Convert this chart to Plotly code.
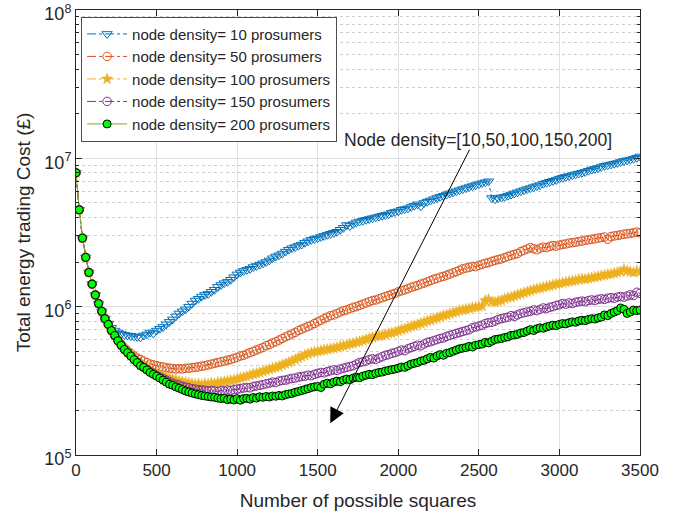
import math
import plotly.graph_objects as go

# Number of possible squares: one sample every 20 squares, starting at 0
x_step = 20

# Total energy trading cost, in millions of £
cost_10 = [8.0, 4.5, 2.9, 2.15, 1.7, 1.42, 1.2, 1.05, 0.93, 0.83,
           0.77, 0.72, 0.69, 0.67, 0.655, 0.645, 0.64, 0.635, 0.63, 0.625,
           0.62, 0.64, 0.65, 0.67, 0.66, 0.69, 0.71, 0.73, 0.76, 0.79,
           0.82, 0.86, 0.9, 0.93, 0.96, 1.0, 1.05, 1.1, 1.13, 1.17,
           1.2, 1.22, 1.26, 1.3, 1.36, 1.4, 1.44, 1.47, 1.52, 1.58,
           1.65, 1.7, 1.74, 1.77, 1.8, 1.85, 1.88, 1.92, 1.96, 2.0,
           2.05, 2.12, 2.18, 2.22, 2.28, 2.35, 2.42, 2.48, 2.52, 2.58,
           2.62, 2.7, 2.76, 2.82, 2.86, 2.9, 2.95, 3.0, 3.05, 3.1,
           3.15, 3.2, 3.3, 3.4, 3.55, 3.5, 3.6, 3.7, 3.75, 3.8,
           3.85, 3.9, 3.95, 4.0, 4.05, 4.1, 4.15, 4.2, 4.3, 4.35,
           4.4, 4.5, 4.55, 4.6, 4.7, 4.8, 4.9, 4.75, 5.0, 5.1,
           5.2, 5.3, 5.4, 5.5, 5.6, 5.7, 5.8, 5.9, 6.0, 6.1,
           6.2, 6.3, 6.4, 6.5, 6.6, 6.7, 6.8, 6.9, 7.0, 5.4,
           5.3, 5.4, 5.45, 5.5, 5.6, 5.7, 5.8, 5.9, 6.0, 6.1,
           6.2, 6.3, 6.4, 6.5, 6.6, 6.75, 6.85, 6.95, 7.05, 7.15,
           7.3, 7.4, 7.5, 7.6, 7.7, 7.8, 7.9, 8.0, 8.1, 8.25,
           8.4, 8.5, 8.6, 8.75, 8.9, 9.0, 9.1, 9.2, 9.3, 9.45,
           9.6, 9.7, 9.8, 9.95, 10.1, 10.3]

cost_50 = [8.0, 4.5, 2.9, 2.15, 1.7, 1.42, 1.2, 1.05, 0.93, 0.83,
           0.76, 0.69, 0.64, 0.595, 0.56, 0.53, 0.505, 0.485, 0.465, 0.45,
           0.44, 0.43, 0.42, 0.41, 0.405, 0.4, 0.395, 0.392, 0.388, 0.385,
           0.383, 0.38, 0.382, 0.38, 0.384, 0.385, 0.388, 0.39, 0.393, 0.397,
           0.4, 0.405, 0.41, 0.415, 0.42, 0.425, 0.43, 0.436, 0.44, 0.448,
           0.455, 0.465, 0.47, 0.48, 0.49, 0.5, 0.51, 0.52, 0.53, 0.545,
           0.555, 0.57, 0.58, 0.595, 0.61, 0.625, 0.64, 0.655, 0.67, 0.69,
           0.705, 0.72, 0.735, 0.75, 0.77, 0.79, 0.81, 0.83, 0.85, 0.87,
           0.88, 0.9, 0.92, 0.94, 0.95, 0.97, 0.99, 1.0, 1.02, 1.04,
           1.06, 1.08, 1.1, 1.11, 1.13, 1.15, 1.17, 1.19, 1.21, 1.23,
           1.26, 1.28, 1.3, 1.32, 1.35, 1.37, 1.39, 1.42, 1.44, 1.47,
           1.5, 1.53, 1.55, 1.58, 1.6, 1.63, 1.66, 1.69, 1.72, 1.76,
           1.8, 1.82, 1.84, 1.87, 1.86, 1.9, 1.93, 1.96, 1.98, 2.02,
           2.05, 2.08, 2.1, 2.14, 2.18, 2.22, 2.25, 2.28, 2.35, 2.4,
           2.45, 2.5, 2.46, 2.42, 2.48, 2.52, 2.5, 2.55, 2.58, 2.56,
           2.6, 2.63, 2.65, 2.68, 2.7, 2.72, 2.75, 2.77, 2.8, 2.82,
           2.85, 2.87, 2.9, 2.92, 2.95, 2.85, 2.97, 3.0, 3.02, 3.05,
           3.08, 3.1, 3.12, 3.15, 3.18, 3.15]

cost_100 = [8.0, 4.5, 2.9, 2.15, 1.7, 1.42, 1.2, 1.05, 0.93, 0.83,
            0.76, 0.69, 0.64, 0.59, 0.55, 0.515, 0.49, 0.466, 0.443, 0.424,
            0.405, 0.395, 0.382, 0.37, 0.362, 0.355, 0.348, 0.342, 0.335, 0.33,
            0.325, 0.32, 0.315, 0.312, 0.31, 0.305, 0.303, 0.3, 0.302, 0.298,
            0.302, 0.3, 0.305, 0.303, 0.308, 0.31, 0.312, 0.315, 0.318, 0.32,
            0.325, 0.33, 0.335, 0.338, 0.345, 0.35, 0.355, 0.36, 0.365, 0.372,
            0.378, 0.385, 0.39, 0.395, 0.405, 0.412, 0.42, 0.43, 0.44, 0.45,
            0.46, 0.47, 0.48, 0.49, 0.495, 0.5, 0.505, 0.51, 0.515, 0.52,
            0.525, 0.53, 0.54, 0.545, 0.55, 0.56, 0.565, 0.575, 0.58, 0.59,
            0.6, 0.61, 0.62, 0.63, 0.635, 0.64, 0.65, 0.66, 0.665, 0.675,
            0.685, 0.7, 0.71, 0.72, 0.735, 0.745, 0.76, 0.77, 0.785, 0.8,
            0.81, 0.825, 0.84, 0.855, 0.87, 0.88, 0.895, 0.91, 0.92, 0.94,
            0.95, 0.96, 0.97, 0.985, 0.99, 1.0, 1.01, 1.1, 1.12, 1.08,
            1.07, 1.09, 1.1, 1.13, 1.15, 1.16, 1.18, 1.2, 1.22, 1.24,
            1.26, 1.28, 1.3, 1.32, 1.33, 1.35, 1.37, 1.38, 1.4, 1.42,
            1.43, 1.45, 1.46, 1.48, 1.49, 1.5, 1.52, 1.54, 1.53, 1.55,
            1.57, 1.58, 1.6, 1.62, 1.63, 1.65, 1.66, 1.68, 1.7, 1.72,
            1.78, 1.74, 1.72, 1.7, 1.74, 1.72]

cost_150 = [8.0, 4.5, 2.9, 2.15, 1.7, 1.42, 1.2, 1.05, 0.93, 0.83,
            0.76, 0.69, 0.64, 0.59, 0.55, 0.515, 0.49, 0.465, 0.442, 0.422,
            0.403, 0.39, 0.378, 0.365, 0.355, 0.345, 0.336, 0.328, 0.32, 0.312,
            0.305, 0.3, 0.296, 0.29, 0.287, 0.284, 0.28, 0.278, 0.276, 0.274,
            0.273, 0.27, 0.272, 0.27, 0.268, 0.272, 0.27, 0.274, 0.272, 0.276,
            0.278, 0.28, 0.283, 0.285, 0.284, 0.29, 0.292, 0.295, 0.298, 0.302,
            0.305, 0.31, 0.308, 0.315, 0.318, 0.32, 0.325, 0.328, 0.33, 0.335,
            0.338, 0.34, 0.345, 0.342, 0.35, 0.355, 0.36, 0.358, 0.365, 0.37,
            0.375, 0.372, 0.38, 0.385, 0.39, 0.395, 0.4, 0.41, 0.42, 0.425,
            0.43, 0.44, 0.445, 0.44, 0.45, 0.46, 0.47, 0.475, 0.485, 0.49,
            0.5, 0.51, 0.505, 0.52, 0.53, 0.54, 0.55, 0.545, 0.56, 0.575,
            0.58, 0.59, 0.6, 0.61, 0.615, 0.63, 0.64, 0.65, 0.66, 0.67,
            0.68, 0.69, 0.7, 0.72, 0.73, 0.74, 0.75, 0.77, 0.78, 0.785,
            0.8, 0.82, 0.83, 0.84, 0.85, 0.87, 0.86, 0.88, 0.9, 0.91,
            0.92, 0.93, 0.95, 0.94, 0.96, 0.98, 0.97, 0.99, 1.0, 1.02,
            1.03, 1.05, 1.04, 1.06, 1.05, 1.07, 1.08, 1.09, 1.08, 1.1,
            1.11, 1.1, 1.12, 1.13, 1.12, 1.14, 1.15, 1.14, 1.16, 1.17,
            1.16, 1.18, 1.2, 1.19, 1.25, 1.23]

cost_200 = [8.0, 4.5, 2.9, 2.15, 1.7, 1.42, 1.2, 1.05, 0.93, 0.83,
            0.76, 0.69, 0.64, 0.59, 0.55, 0.515, 0.49, 0.465, 0.44, 0.42,
            0.40, 0.39, 0.375, 0.36, 0.35, 0.34, 0.33, 0.32, 0.31, 0.30,
            0.295, 0.288, 0.282, 0.276, 0.27, 0.266, 0.262, 0.258, 0.255, 0.252,
            0.25, 0.248, 0.246, 0.245, 0.242, 0.24, 0.241, 0.236, 0.238, 0.235,
            0.24, 0.234, 0.24, 0.241, 0.238, 0.244, 0.242, 0.247, 0.245, 0.248,
            0.246, 0.25, 0.249, 0.252, 0.25, 0.255, 0.258, 0.26, 0.265, 0.268,
            0.272, 0.276, 0.28, 0.285, 0.288, 0.29, 0.285, 0.3, 0.305, 0.302,
            0.31, 0.315, 0.312, 0.32, 0.325, 0.322, 0.33, 0.335, 0.332, 0.34,
            0.345, 0.35, 0.348, 0.355, 0.36, 0.362, 0.368, 0.372, 0.376, 0.38,
            0.385, 0.392, 0.39, 0.4, 0.41, 0.415, 0.42, 0.43, 0.435, 0.445,
            0.455, 0.45, 0.465, 0.475, 0.47, 0.485, 0.49, 0.5, 0.51, 0.52,
            0.525, 0.53, 0.54, 0.535, 0.55, 0.555, 0.56, 0.575, 0.57, 0.585,
            0.6, 0.605, 0.61, 0.62, 0.625, 0.64, 0.645, 0.65, 0.665, 0.67,
            0.685, 0.7, 0.69, 0.71, 0.72, 0.715, 0.73, 0.74, 0.75, 0.745,
            0.76, 0.77, 0.765, 0.78, 0.79, 0.785, 0.8, 0.81, 0.805, 0.82,
            0.83, 0.825, 0.84, 0.85, 0.88, 0.87, 0.9, 0.92, 0.94, 0.98,
            0.96, 0.9, 0.92, 0.95, 0.94, 0.95]

series_names = ["node density= 10 prosumers", "node density= 50 prosumers",
                "node density= 100 prosumers", "node density= 150 prosumers",
                "node density= 200 prosumers"]
series_values = [cost_10, cost_50, cost_100, cost_150, cost_200]

y_tick_values = [1e5, 1e6, 1e7, 1e8]
y_tick_labels = ["10<sup>5</sup>", "10<sup>6</sup>", "10<sup>7</sup>", "10<sup>8</sup>"]
x_tick_values = [0, 500, 1000, 1500, 2000, 2500, 3000, 3500]

annotation_text = "Node density=[10,50,100,150,200]"
# arrow tail / head and text anchor (in data units)
arrow_tail = (2447, 1.17e7)
arrow_head = (1578, 1.64e5)
text_anchor = (2495, 1.33e7)

styles = [
    dict(line=dict(color="#0072BD", width=1, dash="dashdot"),
         marker=dict(symbol="triangle-down-open", size=9, color="#0072BD",
                     line=dict(width=1, color="#0072BD"))),
    dict(line=dict(color="#D95319", width=1, dash="dashdot"),
         marker=dict(symbol="circle-open", size=8.5, color="#D95319",
                     line=dict(width=1, color="#D95319"))),
    dict(line=dict(color="#EDB120", width=1, dash="dashdot"),
         marker=dict(symbol="star", size=8.5, color="#EDB120",
                     line=dict(width=0.5, color="#EDB120"))),
    dict(line=dict(color="#7E2F8E", width=1, dash="dashdot"),
         marker=dict(symbol="circle-open", size=8.5, color="#7E2F8E",
                     line=dict(width=1, color="#7E2F8E"))),
    dict(line=dict(color="#77AC30", width=1, dash="solid"),
         marker=dict(symbol="circle", size=8, color="#00FF00",
                     line=dict(width=1, color="#000000"))),
]

fig = go.Figure()
for name, vals, st in zip(series_names, series_values, styles):
    xs = list(range(0, x_step * len(vals), x_step))
    ys = [v * 1e6 for v in vals]
    fig.add_trace(go.Scatter(x=xs, y=ys, mode="lines+markers", name=name,
                             line=st["line"], marker=st["marker"]))

FONT = "Liberation Sans, Arial, Helvetica, sans-serif"
TXT = "#262626"
GRID = "#e0e0e0"

fig.update_layout(
    width=686, height=514,
    margin=dict(l=76, r=46, t=10, b=59, autoexpand=False),
    paper_bgcolor="white", plot_bgcolor="white",
    font=dict(family=FONT, color=TXT, size=17),
    showlegend=True,
    legend=dict(x=0.009, y=0.985, xanchor="left", yanchor="top",
                bgcolor="white", bordercolor="#4d4d4d", borderwidth=1,
                font=dict(size=15, color=TXT), tracegroupgap=0,
                itemwidth=40),
)

fig.update_xaxes(
    range=[0, 3500], tickvals=x_tick_values, automargin=False,
    showgrid=True, gridcolor=GRID, gridwidth=1,
    ticks="inside", ticklen=6, tickcolor=TXT,
    showline=True, linecolor=TXT, linewidth=1, mirror="ticks",
    zeroline=False, tickfont=dict(size=17, color=TXT),
    title=dict(text="Number of possible squares", font=dict(size=19, color=TXT),
               standoff=14),
)

fig.update_yaxes(
    type="log", range=[4.99999, 8.00001], tickvals=y_tick_values,
    ticktext=y_tick_labels, automargin=False, ticklabeloverflow="allow",
    ticklabelshift=4,
    showgrid=True, gridcolor=GRID, gridwidth=1,
    ticks="inside", ticklen=6, tickcolor=TXT,
    showline=True, linecolor=TXT, linewidth=1, mirror="ticks",
    zeroline=False, tickfont=dict(size=18, color=TXT),
    minor=dict(dtick="D1", ticks="inside", ticklen=3, tickcolor=TXT,
               showgrid=True, gridcolor="#cfcfcf", griddash="dot", gridwidth=1),
    title=dict(text="Total energy trading Cost (£)", font=dict(size=19, color=TXT),
               standoff=8),
)

fig.add_annotation(
    x=arrow_head[0], y=math.log10(arrow_head[1]),
    ax=arrow_tail[0], ay=math.log10(arrow_tail[1]),
    xref="x", yref="y", axref="x", ayref="y",
    text="", showarrow=True, arrowhead=2, arrowsize=3, arrowwidth=1,
    arrowcolor="#000000",
)
fig.add_annotation(
    x=text_anchor[0], y=math.log10(text_anchor[1]), xref="x", yref="y",
    text=annotation_text, showarrow=False,
    font=dict(size=17.5, color=TXT, family=FONT),
)

fig.write_html("out.html", config={"displayModeBar": False},
               post_script="document.body.style.margin='0';")
